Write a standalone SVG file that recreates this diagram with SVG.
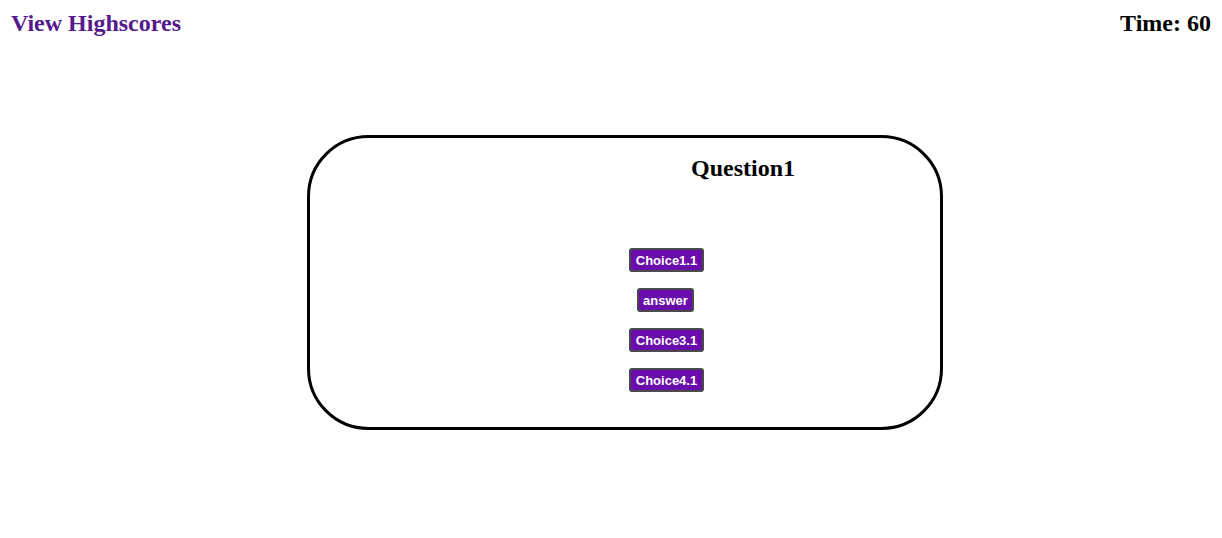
<svg xmlns="http://www.w3.org/2000/svg" width="1222" height="538" viewBox="0 0 1222 538">
<style>
.hdr{font-family:"Liberation Serif","Times New Roman",serif;font-weight:bold;font-size:24px}
.btn rect{fill:#6a0dad;stroke:#4a4a4a;stroke-width:2}
.btn text{font-family:"Liberation Sans",Arial,sans-serif;font-size:13px;font-weight:bold;fill:#fff;text-anchor:middle}
</style>
<rect width="1222" height="538" fill="#fff"/>
<text id="highscores" class="hdr" x="11" y="31" fill="#551a8b">View Highscores</text>
<text id="timer" class="hdr" x="1211" y="31" text-anchor="end" fill="#000">Time: 60</text>
<g id="card">
<rect x="308.5" y="136.5" width="633" height="292" rx="60" ry="60" fill="none" stroke="#000" stroke-width="3"/>
<text class="hdr" x="743" y="176" text-anchor="middle" fill="#000">Question1</text>
</g>
<g id="choice1" class="btn"><rect x="630" y="249" width="73" height="22" rx="2"/><text x="666.5" y="264.5">Choice1.1</text></g>
<g id="choice2" class="btn"><rect x="638" y="289" width="55" height="22" rx="2"/><text x="665.5" y="304.5">answer</text></g>
<g id="choice3" class="btn"><rect x="630" y="329" width="73" height="22" rx="2"/><text x="666.5" y="344.5">Choice3.1</text></g>
<g id="choice4" class="btn"><rect x="630" y="369" width="73" height="22" rx="2"/><text x="666.5" y="384.5">Choice4.1</text></g>
<g id="connectors"/>
</svg>
